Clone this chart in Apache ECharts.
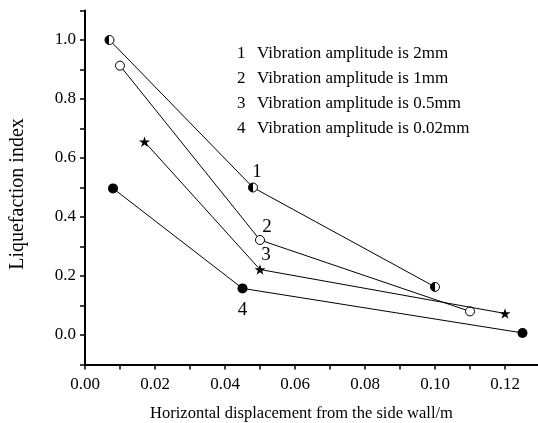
<!DOCTYPE html>
<html>
<head>
<meta charset="utf-8">
<script src="https://cdn.jsdelivr.net/npm/echarts@6/dist/echarts.min.js"></script>
<style>
html,body{margin:0;padding:0;background:#fff;}
#chart{width:538px;height:423px;}
</style>
</head>
<body>
<div id="chart"></div>
<script>
// ---- data ----
var curveLabels = ['1', '2', '3', '4'];
var legendTexts = [
  'Vibration amplitude is 2mm',
  'Vibration amplitude is 1mm',
  'Vibration amplitude is 0.5mm',
  'Vibration amplitude is 0.02mm'
];
var x1 = [0.007, 0.048, 0.100];
var y1 = [1.000, 0.500, 0.163];
var x2 = [0.010, 0.050, 0.110];
var y2 = [0.913, 0.322, 0.080];
var x3 = [0.017, 0.050, 0.120];
var y3 = [0.655, 0.222, 0.073];
var x4 = [0.008, 0.045, 0.125];
var y4 = [0.497, 0.158, 0.007];
var xTitle = 'Horizontal displacement from the side wall/m';
var yTitle = 'Liquefaction index';

// ---- styling ----
var FONT = '"Liberation Serif", "DejaVu Serif", serif';
var star = 'path://M10 0 L12.245 6.91 L19.511 6.91 L13.633 11.18 L15.878 18.09 L10 13.82 L4.122 18.09 L6.367 11.18 L0.489 6.91 L7.755 6.91 Z';
var halfFill = {
  type: 'linear', x: 0, y: 0, x2: 1, y2: 0,
  colorStops: [
    { offset: 0, color: '#000' }, { offset: 0.5, color: '#000' },
    { offset: 0.5, color: '#fff' }, { offset: 1, color: '#fff' }
  ]
};

function pts(xs, ys, labelIdx, labelText, labelOffset) {
  return xs.map(function (x, i) {
    var item = { value: [x, ys[i]] };
    if (i === labelIdx) {
      item.label = {
        show: true, formatter: labelText, position: 'inside',
        offset: labelOffset, color: '#000', fontSize: 19, fontFamily: FONT
      };
    }
    return item;
  });
}

var seriesDefs = [
  { xs: x1, ys: y1, symbol: 'circle', size: 9, off: [4, -15], fill: halfFill, bw: 1 },
  { xs: x2, ys: y2, symbol: 'circle', size: 9, off: [7, -13], fill: '#fff', bw: 1 },
  { xs: x3, ys: y3, symbol: star, size: 11, off: [6, -14], fill: '#000', bw: 0 },
  { xs: x4, ys: y4, symbol: 'circle', size: 10, off: [0, 22], fill: '#000', bw: 0 }
];

var series = seriesDefs.map(function (d, k) {
  return {
    type: 'line',
    name: legendTexts[k],
    data: pts(d.xs, d.ys, 1, curveLabels[k], d.off),
    symbol: d.symbol,
    symbolSize: d.size,
    symbolKeepAspect: true,
    showAllSymbol: true,
    lineStyle: { color: '#000', width: 1 },
    itemStyle: { color: d.fill, borderColor: '#000', borderWidth: d.bw },
    label: { show: false },
    emphasis: { disabled: true },
    z: 2 + k
  };
});

var graphics = [];
curveLabels.forEach(function (n, i) {
  graphics.push({
    type: 'text', left: 237, top: 45 + i * 25,
    style: { text: n, font: '17px ' + FONT, fill: '#000' }
  });
  graphics.push({
    type: 'text', left: 257, top: 45 + i * 25,
    style: { text: legendTexts[i], font: '17px ' + FONT, fill: '#000' }
  });
});
graphics.push({
  type: 'text', x: 18, y: 194, rotation: Math.PI / 2,
  style: { text: yTitle, font: '20px ' + FONT, fill: '#000', align: 'center', verticalAlign: 'middle' }
});

var chart = echarts.init(document.getElementById('chart'), null, { renderer: 'canvas' });
chart.setOption({
  animation: false,
  backgroundColor: '#fff',
  grid: { left: 85, right: -2, top: 10.5, bottom: 58.5, containLabel: false, outerBoundsMode: 'none' },
  xAxis: {
    type: 'value', min: 0, max: 0.13, interval: 0.01,
    name: xTitle, nameLocation: 'middle', nameGap: 41,
    nameTextStyle: { fontFamily: FONT, fontSize: 16.5, color: '#000', padding: [0, 22, 0, 0] },
    axisLine: { show: true, onZero: false, lineStyle: { color: '#000', width: 2 } },
    axisTick: { show: true, inside: false, length: 5, lineStyle: { color: '#000', width: 1.5 } },
    axisLabel: {
      color: '#000', fontFamily: FONT, fontSize: 17, margin: 12, showMaxLabel: false,
      formatter: function (v) { return Math.round(v * 100) % 2 === 0 ? v.toFixed(2) : ''; }
    },
    splitLine: { show: false }
  },
  yAxis: {
    type: 'value', min: -0.1, max: 1.1, interval: 0.1,
    axisLine: { show: true, onZero: false, lineStyle: { color: '#000', width: 2 } },
    axisTick: { show: true, inside: false, length: 5, lineStyle: { color: '#000', width: 1.5 } },
    axisLabel: {
      color: '#000', fontFamily: FONT, fontSize: 17, margin: 9,
      formatter: function (v) { var r = Math.round(v * 10); return (r % 2 === 0 && r >= 0) ? v.toFixed(1) : ''; }
    },
    splitLine: { show: false }
  },
  graphic: graphics,
  series: series
});
</script>
</body>
</html>
